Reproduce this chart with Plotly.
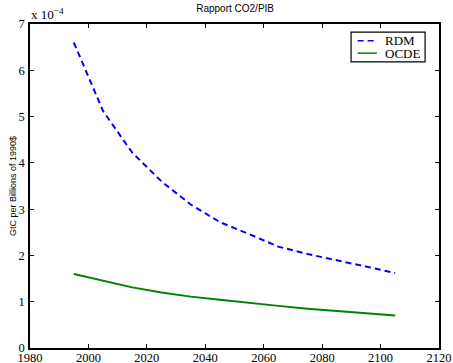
import plotly.graph_objects as go

# Emission intensity (units of 1e-4 GtC per billion 1990$)
years = [1995, 2005, 2015, 2025, 2035, 2045, 2055, 2065, 2075, 2085, 2095, 2105]
rdm = [6.60, 5.12, 4.22, 3.60, 3.10, 2.72, 2.46, 2.19, 2.03, 1.90, 1.76, 1.62]
ocde = [1.60, 1.45, 1.31, 1.20, 1.11, 1.04, 0.97, 0.91, 0.85, 0.80, 0.76, 0.70]

x_ticks = [1980, 2000, 2020, 2040, 2060, 2080, 2100, 2120]
y_ticks = [0, 1, 2, 3, 4, 5, 6, 7]

series_names = ["RDM", "OCDE"]
series_colors = ["#0000ff", "#008000"]
series_dash = ["6px,4px", "solid"]

serif = "Liberation Serif"
sans = "Liberation Sans"

fig = go.Figure()
for name, vals, color, dash in zip(series_names, [rdm, ocde], series_colors, series_dash):
    fig.add_trace(go.Scatter(x=years, y=vals, mode="lines", name=name, showlegend=False,
                             line=dict(color=color, width=2, dash=dash)))

axis_common = dict(showgrid=False, zeroline=False, showline=True, linecolor="black",
                   linewidth=1.5, mirror="allticks", ticks="inside", ticklen=4,
                   tickcolor="black", automargin=False,
                   tickfont=dict(family=serif, size=12.5, color="black"))

fig.update_xaxes(range=[1980, 2120], tickvals=x_ticks, ticklabelstandoff=-3, **axis_common)
fig.update_yaxes(range=[0, 7], tickvals=y_ticks, ticklabelstandoff=1,
                 title=dict(text="GtC per Billions of 1990$", standoff=0,
                            font=dict(family=sans, size=9, color="black")),
                 **axis_common)

# Boxed legend in the upper-right corner of the axes
shapes = [dict(type="rect", xref="paper", yref="paper", x0=0.785, x1=0.966, y0=0.883, y1=0.975,
               line=dict(color="black", width=1.2), fillcolor="white", layer="above")]
annotations = [dict(text="x 10<sup>\u22124</sup>", xref="paper", yref="paper",
                    x=-0.003, y=1.0, xanchor="left", yanchor="bottom", showarrow=False,
                    font=dict(family=serif, size=13, color="black"))]
for i, (name, color, dash) in enumerate(zip(series_names, series_colors, series_dash)):
    ly = 0.948 - i * 0.038
    shapes.append(dict(type="line", xref="paper", yref="paper", x0=0.801, x1=0.848, y0=ly, y1=ly,
                       line=dict(color=color, width=1.5, dash=dash), layer="above"))
    annotations.append(dict(text=name, xref="paper", yref="paper", x=0.862, y=ly,
                            xanchor="left", yanchor="middle", showarrow=False,
                            font=dict(family=serif, size=13, color="black")))

fig.update_layout(
    width=453, height=363,
    margin=dict(l=30, r=14, t=24, b=15),
    paper_bgcolor="white", plot_bgcolor="white",
    showlegend=False,
    title=dict(text="Rapport CO2/PIB", x=0.519, xanchor="center", y=0.985, yanchor="top",
               font=dict(family=sans, size=10, color="black")),
    shapes=shapes,
    annotations=annotations,
)

fig.write_html("out.html")
